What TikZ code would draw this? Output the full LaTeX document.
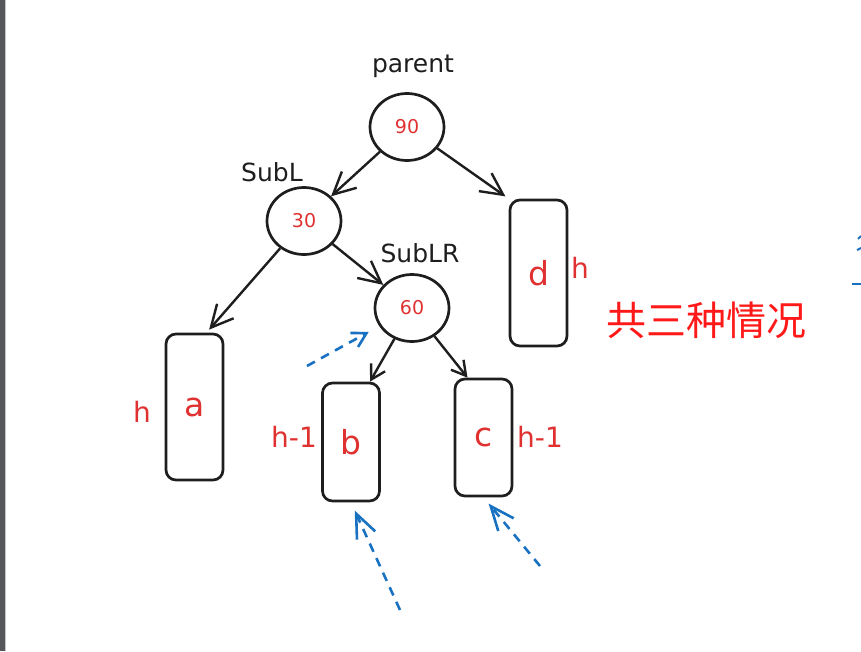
\documentclass[tikz,border=0pt]{standalone}
\usepackage{fontspec}
\setmainfont{DejaVu Sans}
\newfontfamily\cjkfont{Noto Sans CJK SC}
\usetikzlibrary{shapes.geometric,arrows.meta}
\definecolor{inkblack}{RGB}{30,30,30}
\definecolor{valred}{RGB}{224,49,49}
\definecolor{notered}{RGB}{255,25,25}
\definecolor{hintblue}{RGB}{25,113,194}
\definecolor{bargray}{RGB}{84,86,91}

\begin{document}
\begin{tikzpicture}[
  x=1pt, y=-1pt,
  keynode/.style={
    draw=inkblack,
    ellipse,
    line width=2.7pt,
    minimum width=74pt,
    minimum height=67pt,
    inner sep=0pt,
    font=\fontsize{19}{19}\selectfont\color{valred}
  },
  subtree/.style={
    draw=inkblack,
    rectangle,
    rounded corners=10pt,
    line width=2.7pt,
    minimum width=57pt,
    inner sep=0pt,
    font=\fontsize{33}{33}\selectfont\color{valred}
  },
  tag/.style={font=\fontsize{25}{25}\selectfont\color{inkblack}},
  hgt/.style={font=\fontsize{28}{28}\selectfont\color{valred}},
  arr/.style={-{Straight Barb[length=22pt,width=22pt,line width=2.4pt]}, line width=2.4pt, draw=inkblack},
  shortarr/.style={arr, -{Straight Barb[length=14pt,width=16pt,line width=2.4pt]}},
  hint/.style={-{Straight Barb[length=24pt,width=20pt,line width=2.6pt]}, line width=2.6pt, draw=hintblue, dash pattern=on 9pt off 7pt}
]
\useasboundingbox (0,0) rectangle (861,651);
\fill[bargray] (0,0) rectangle (5,651);
\draw[gray!45, line width=1pt] (5.5,0) -- (5.5,651);

% Keys
\node[tag] (parentlbl) at (413,66) {parent};
\node[keynode] (p90) at (407,127) {90};
\node[tag] (subllbl) at (272,172) {SubL};
\node[keynode] (n30) at (304,221) {30};
\node[tag] (sublrlbl) at (420,253) {SubLR};
\node[keynode] (n60) at (412,308) {60};

% Sub-trees
\node[subtree, minimum height=146pt] (a) at (194.5,407) {a};
\node[subtree, minimum height=118pt] (b) at (351,442) {b};
\node[subtree, minimum height=117pt] (c) at (483.5,437.5) {c};
\node[subtree, minimum height=146pt] (d) at (538.5,273) {d};

% Heights
\node[hgt] (ha) at (142,412) {h};
\node[hgt] (hb) at (294,437) {h-1};
\node[hgt] (hc) at (540,437) {h-1};
\node[hgt] (hd) at (580,268) {h};

\node[font=\cjkfont\fontsize{40}{40}\selectfont, text=notered] (cases) at (706,320) {共三种情况};

% Arrows
\draw[arr] (p90) -- (n30);
\draw[arr, shorten >=4pt] (p90) -- (d.north west);
\draw[arr, shorten >=4pt] (n30) -- ([xshift=12pt]a.north);
\draw[arr] (n30) -- (n60);
\draw[shortarr] (n60) -- ([xshift=19pt]b.north);
\draw[shortarr] (n60) -- ([xshift=-16pt]c.north);

% Blue hints
\coordinate (from60) at (307,366);
\coordinate (fromb) at (400,610);
\coordinate (fromc) at (540,566);
\draw[hint, shorten >=12pt, -{Straight Barb[length=14pt,width=16pt,line width=2.6pt]}] (from60) -- (n60);
\draw[hint, shorten >=9pt] (fromb) -- (b.south);
\draw[hint, shorten >=8pt] (fromc) -- (c.south);
\draw[hintblue, line width=2.5pt] (852,284) -- (861,284);
\draw[hintblue, line width=2pt] (858,239) -- (861,236);
\draw[hintblue, line width=2pt] (857,250) -- (861,248);
\end{tikzpicture}
\end{document}
